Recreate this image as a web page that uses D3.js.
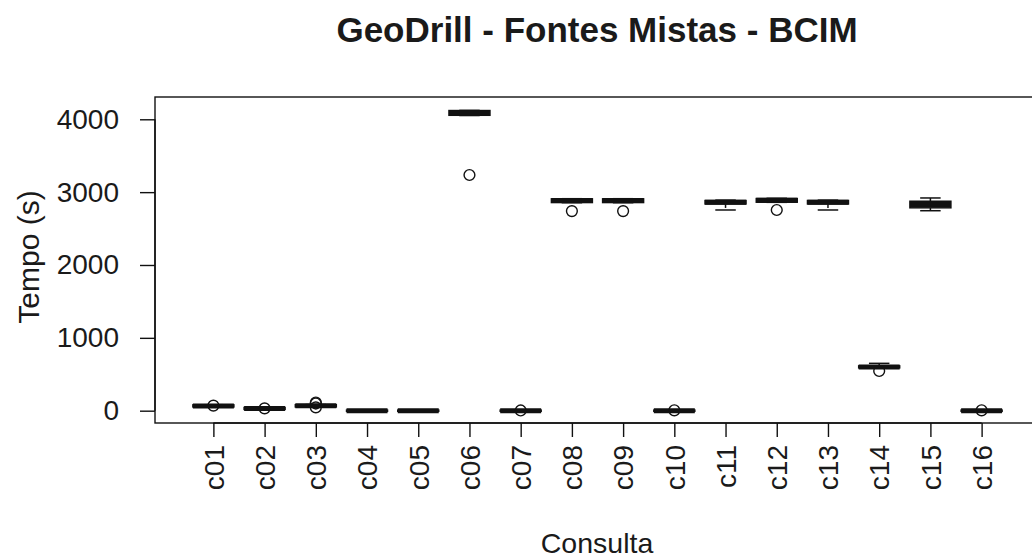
<!DOCTYPE html>
<html>
<head>
<meta charset="utf-8">
<script src="https://cdn.jsdelivr.net/npm/d3@7"></script>
<style>
  body { margin: 0; background: #fff; }
  text { font-family: "Liberation Sans", Arial, sans-serif; fill: #1a1a1a; }
</style>
</head>
<body>
<div class="chart"></div>
<script>
const consultas = ['c01', 'c02', 'c03', 'c04', 'c05', 'c06', 'c07', 'c08',
  'c09', 'c10', 'c11', 'c12', 'c13', 'c14', 'c15', 'c16'];

// five-number summary per query
const whiskerLow = [50, 15, 50, -10, -10, 4052, -10, 2855, 2855, -10, 2755, 2860, 2755, 585, 2745, -10];
const q1 = [52, 18, 52, -8, -8, 4055, -8, 2857, 2857, -8, 2838, 2862, 2838, 588, 2785, -8];
const median = [66, 30, 68, 0, 0, 4090, 0, 2885, 2885, 0, 2860, 2890, 2860, 600, 2830, 0];
const q3 = [80, 44, 82, 8, 8, 4120, 8, 2908, 2908, 8, 2885, 2912, 2885, 615, 2875, 8];
const whiskerHigh = [82, 46, 84, 10, 10, 4122, 10, 2910, 2910, 10, 2890, 2915, 2890, 650, 2920, 10];
const outliers = [[70], [32], [112, 98, 45], [], [], [3235], [3], [2740],
  [2740], [5], [], [2755], [], [545], [], [5]];

const yTicks = [0, 1000, 2000, 3000, 4000];

const width = 1032, height = 558;
const svg = d3.select('.chart').append('svg')
  .attr('width', width)
  .attr('height', height);

const x = d3.scaleLinear()
  .domain([0.5 - 0.64, 16.5 + 0.64])
  .range([155, 1040]);

const y = d3.scaleLinear()
  .domain([-169, 4306])
  .range([423, 97]);

const unit = x(2) - x(1);
const boxW = 0.8 * unit;
const capW = 0.5 * boxW;
const ink = '#111';

// title
svg.append('text')
  .attr('x', 597)
  .attr('y', 42)
  .attr('text-anchor', 'middle')
  .style('font-weight', 'bold')
  .style('font-size', '35px')
  .text('GeoDrill - Fontes Mistas - BCIM');

// boxes
const boxes = consultas.map((c, i) => ({
  name: c, pos: i + 1,
  lo: whiskerLow[i], q1: q1[i], med: median[i], q3: q3[i], hi: whiskerHigh[i],
  out: outliers[i]
}));

const g = svg.append('g');
const bg = g.selectAll('.box').data(boxes).enter().append('g').attr('class', 'box');

bg.append('line')
  .attr('x1', d => x(d.pos)).attr('x2', d => x(d.pos))
  .attr('y1', d => y(d.hi)).attr('y2', d => y(d.q3))
  .attr('stroke', ink).attr('stroke-width', 1.5).attr('stroke-dasharray', '4,3');
bg.append('line')
  .attr('x1', d => x(d.pos)).attr('x2', d => x(d.pos))
  .attr('y1', d => y(d.q1)).attr('y2', d => y(d.lo))
  .attr('stroke', ink).attr('stroke-width', 1.5).attr('stroke-dasharray', '4,3');
bg.append('line')
  .attr('x1', d => x(d.pos) - capW / 2).attr('x2', d => x(d.pos) + capW / 2)
  .attr('y1', d => y(d.hi)).attr('y2', d => y(d.hi))
  .attr('stroke', ink).attr('stroke-width', 1.5);
bg.append('line')
  .attr('x1', d => x(d.pos) - capW / 2).attr('x2', d => x(d.pos) + capW / 2)
  .attr('y1', d => y(d.lo)).attr('y2', d => y(d.lo))
  .attr('stroke', ink).attr('stroke-width', 1.5);
bg.append('rect')
  .attr('x', d => x(d.pos) - boxW / 2)
  .attr('width', boxW)
  .attr('y', d => y(d.q3))
  .attr('height', d => Math.max(0.5, y(d.q1) - y(d.q3)))
  .attr('fill', '#fff')
  .attr('stroke', ink).attr('stroke-width', 1.5);
bg.append('line')
  .attr('x1', d => x(d.pos) - boxW / 2).attr('x2', d => x(d.pos) + boxW / 2)
  .attr('y1', d => y(d.med)).attr('y2', d => y(d.med))
  .attr('stroke', ink).attr('stroke-width', 5);

bg.selectAll('circle')
  .data(d => d.out.map(v => ({ pos: d.pos, v })))
  .enter().append('circle')
  .attr('cx', d => x(d.pos))
  .attr('cy', d => y(d.v))
  .attr('r', 5.4)
  .attr('fill', 'none')
  .attr('stroke', ink)
  .attr('stroke-width', 1.4);

// frame
svg.append('rect')
  .attr('x', x.range()[0]).attr('y', y.range()[1])
  .attr('width', x.range()[1] - x.range()[0])
  .attr('height', y.range()[0] - y.range()[1])
  .attr('fill', 'none')
  .attr('stroke', ink).attr('stroke-width', 1.4);

// y axis
const yAxis = svg.append('g')
  .attr('transform', `translate(${x.range()[0]},0)`)
  .call(d3.axisLeft(y).tickValues(yTicks).tickSize(15).tickPadding(21).tickFormat(d3.format('d')));
yAxis.select('.domain')
  .attr('d', `M0,${y(0)}V${y(4000)}`)
  .attr('stroke', ink).attr('stroke-width', 1.4);
yAxis.selectAll('.tick line').attr('stroke', ink).attr('stroke-width', 1.4);
yAxis.selectAll('.tick text')
  .style('font-size', '28px')
  .style('font-family', '"Liberation Sans", Arial, sans-serif')
  .attr('fill', ink);

// x axis
const xAxis = svg.append('g')
  .attr('transform', `translate(0,${y.range()[0]})`)
  .call(d3.axisBottom(x).tickValues(d3.range(1, 17)).tickSize(14).tickFormat(d => consultas[d - 1]));
xAxis.select('.domain')
  .attr('d', `M${x(1)},0H${x(16)}`)
  .attr('stroke', ink).attr('stroke-width', 1.4);
xAxis.selectAll('.tick line').attr('stroke', ink).attr('stroke-width', 1.4);
xAxis.selectAll('.tick text')
  .attr('transform', 'rotate(-90)')
  .attr('x', -22)
  .attr('y', 0)
  .attr('dy', '0.35em')
  .style('text-anchor', 'end')
  .style('font-size', '28px')
  .style('font-family', '"Liberation Sans", Arial, sans-serif')
  .attr('fill', ink);

// axis titles
svg.append('text')
  .attr('x', 597)
  .attr('y', 553)
  .attr('text-anchor', 'middle')
  .style('font-size', '28.5px')
  .text('Consulta');

svg.append('text')
  .attr('transform', `translate(39,257) rotate(-90)`)
  .attr('text-anchor', 'middle')
  .style('font-size', '30px')
  .text('Tempo (s)');
</script>
</body>
</html>
